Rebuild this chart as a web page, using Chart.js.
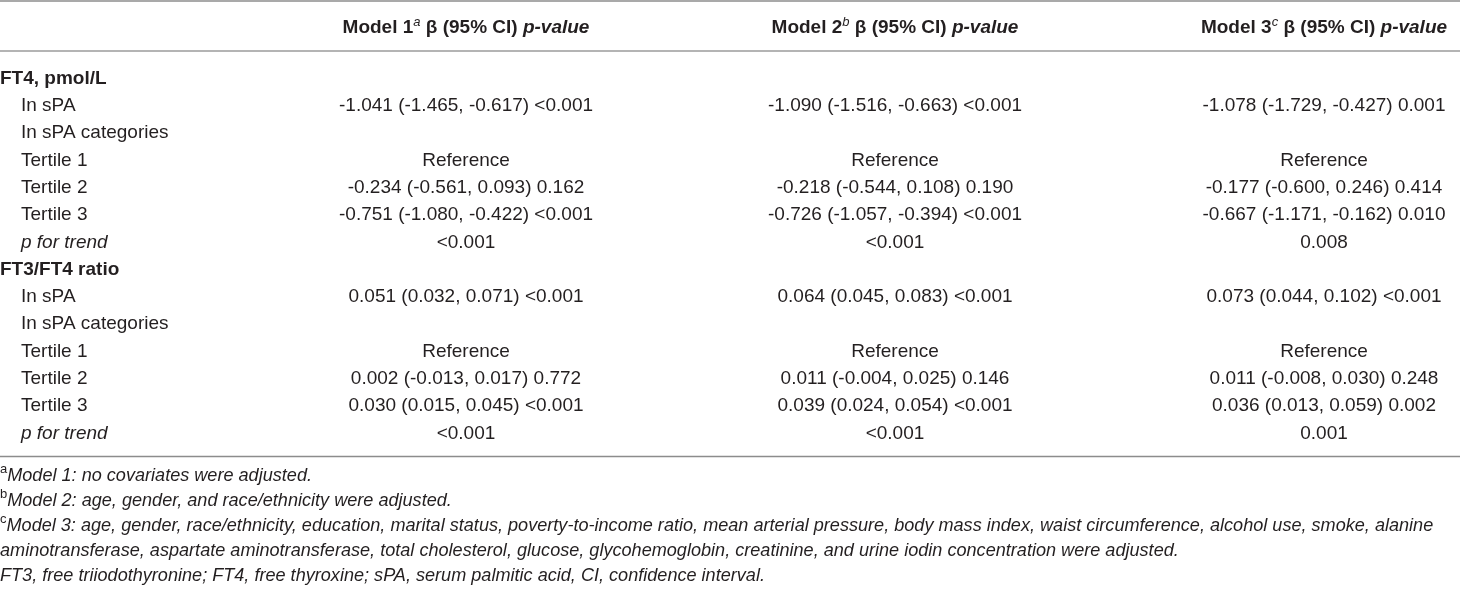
<!DOCTYPE html>
<html>
<head>
<meta charset="utf-8">
<script src="https://cdn.jsdelivr.net/npm/chart.js@4.4.1/dist/chart.umd.min.js"></script>
<style>
  html, body { margin: 0; padding: 0; background: #fff; }
  #wrap { width: 1460px; height: 592px; }
</style>
</head>
<body>
<div id="wrap"><canvas id="table"></canvas></div>
<script>
// rows of the table (y axis categories)
const rowLabels = [
  "FT4, pmol/L", "In sPA", "In sPA categories", "Tertile 1", "Tertile 2", "Tertile 3", "p for trend",
  "FT3/FT4 ratio", "In sPA", "In sPA categories", "Tertile 1", "Tertile 2", "Tertile 3", "p for trend",
];
// group = bold heading, sub = indented, trend = indented italic
const rowKinds = ["group", "sub", "sub", "sub", "sub", "sub", "trend", "group", "sub", "sub", "sub", "sub", "sub", "trend"];

// columns (x axis categories)
const models = ["Model 1", "Model 2", "Model 3"];
const modelNotes = ["a", "b", "c"];

// cell values, β (95% CI) p-value
const model1 = [
  "", "-1.041 (-1.465, -0.617) <0.001", "", "Reference", "-0.234 (-0.561, 0.093) 0.162",
  "-0.751 (-1.080, -0.422) <0.001", "<0.001",
  "", "0.051 (0.032, 0.071) <0.001", "", "Reference", "0.002 (-0.013, 0.017) 0.772",
  "0.030 (0.015, 0.045) <0.001", "<0.001",
];
const model2 = [
  "", "-1.090 (-1.516, -0.663) <0.001", "", "Reference", "-0.218 (-0.544, 0.108) 0.190",
  "-0.726 (-1.057, -0.394) <0.001", "<0.001",
  "", "0.064 (0.045, 0.083) <0.001", "", "Reference", "0.011 (-0.004, 0.025) 0.146",
  "0.039 (0.024, 0.054) <0.001", "<0.001",
];
const model3 = [
  "", "-1.078 (-1.729, -0.427) 0.001", "", "Reference", "-0.177 (-0.600, 0.246) 0.414",
  "-0.667 (-1.171, -0.162) 0.010", "0.008",
  "", "0.073 (0.044, 0.102) <0.001", "", "Reference", "0.011 (-0.008, 0.030) 0.248",
  "0.036 (0.013, 0.059) 0.002", "0.001",
];
const modelCells = [model1, model2, model3];

// footnotes under the table
const noteMarks = ["a", "b", "c", "", ""];
const noteLines = [
  "Model 1: no covariates were adjusted.",
  "Model 2: age, gender, and race/ethnicity were adjusted.",
  "Model 3: age, gender, race/ethnicity, education, marital status, poverty-to-income ratio, mean arterial pressure, body mass index, waist circumference, alcohol use, smoke, alanine",
  "aminotransferase, aspartate aminotransferase, total cholesterol, glucose, glycohemoglobin, creatinine, and urine iodin concentration were adjusted.",
  "FT3, free triiodothyronine; FT4, free thyroxine; sPA, serum palmitic acid, CI, confidence interval.",
];

const FAMILY = '"Liberation Sans", Arial, Helvetica, sans-serif';
const INK = "#231f20";

// draw a list of text runs with different fonts as one line
function drawRuns(ctx, runs, x, y, align) {
  let total = 0;
  runs.forEach((r) => {
    ctx.font = r.font;
    r.w = ctx.measureText(r.text).width;
    total += r.w;
  });
  let cx = align === "center" ? x - total / 2 : x;
  runs.forEach((r) => {
    ctx.font = r.font;
    ctx.fillText(r.text, cx, y + (r.dy || 0));
    cx += r.w;
  });
}

function rule(ctx, y, width, color, lw) {
  ctx.save();
  ctx.strokeStyle = color;
  ctx.lineWidth = lw;
  ctx.beginPath();
  ctx.moveTo(0, y);
  ctx.lineTo(width, y);
  ctx.stroke();
  ctx.restore();
}

const tablePlugin = {
  id: "tableCells",
  afterDraw(chart) {
    const { ctx, chartArea, scales } = chart;
    const width = chart.width;
    const xs = scales.x;
    const ys = scales.y;
    ctx.save();
    ctx.fillStyle = INK;
    ctx.textBaseline = "middle";
    ctx.textAlign = "left";

    // horizontal rules
    const headRule = chartArea.top - 14;
    const bottomRule = chartArea.bottom + 9.5;
    rule(ctx, 1, width, "#a9a9a9", 2);
    rule(ctx, headRule, width, "#b4b4b4", 2);
    rule(ctx, bottomRule, width, "#8c8c8c", 1.5);

    // header
    const headY = (1 + headRule) / 2 + 2;
    models.forEach((m, i) => {
      const x = xs.getPixelForValue(i);
      drawRuns(ctx, [
        { text: m, font: "bold 19px " + FAMILY },
        { text: modelNotes[i], font: "italic 13px " + FAMILY, dy: -6 },
        { text: " β (95% CI) ", font: "bold 19px " + FAMILY },
        { text: "p-value", font: "italic bold 19px " + FAMILY },
      ], x, headY, "center");
    });

    // row labels and cells
    rowLabels.forEach((label, r) => {
      const y = ys.getPixelForValue(r);
      const kind = rowKinds[r];
      if (kind === "group") {
        ctx.font = "bold 19px " + FAMILY;
        ctx.fillText(label, 0, y);
      } else {
        ctx.font = (kind === "trend" ? "italic " : "") + "19px " + FAMILY;
        ctx.fillText(label, 21, y);
      }
      ctx.font = "19px " + FAMILY;
      ctx.textAlign = "center";
      modelCells.forEach((cells, c) => {
        if (cells[r]) ctx.fillText(cells[r], xs.getPixelForValue(c), y);
      });
      ctx.textAlign = "left";
    });

    // footnotes
    noteLines.forEach((line, i) => {
      const y = bottomRule + 19 + i * 25;
      const runs = [];
      if (noteMarks[i]) runs.push({ text: noteMarks[i], font: "13px " + FAMILY, dy: -6 });
      runs.push({ text: line, font: "italic 18.1px " + FAMILY });
      drawRuns(ctx, runs, 0, y, "left");
    });
    ctx.restore();
  },
};

const canvas = document.getElementById("table");
new Chart(canvas.getContext("2d"), {
  type: "scatter",
  data: { datasets: [] },
  options: {
    responsive: true,
    maintainAspectRatio: false,
    animation: false,
    events: [],
    layout: { padding: { left: 466, right: 136, top: 65, bottom: 145 } },
    plugins: {
      legend: { display: false },
      tooltip: { enabled: false },
    },
    scales: {
      x: { type: "category", labels: models, offset: false, display: false },
      y: { type: "category", labels: rowLabels, offset: true, display: false },
    },
  },
  plugins: [tablePlugin],
});
</script>
</body>
</html>
